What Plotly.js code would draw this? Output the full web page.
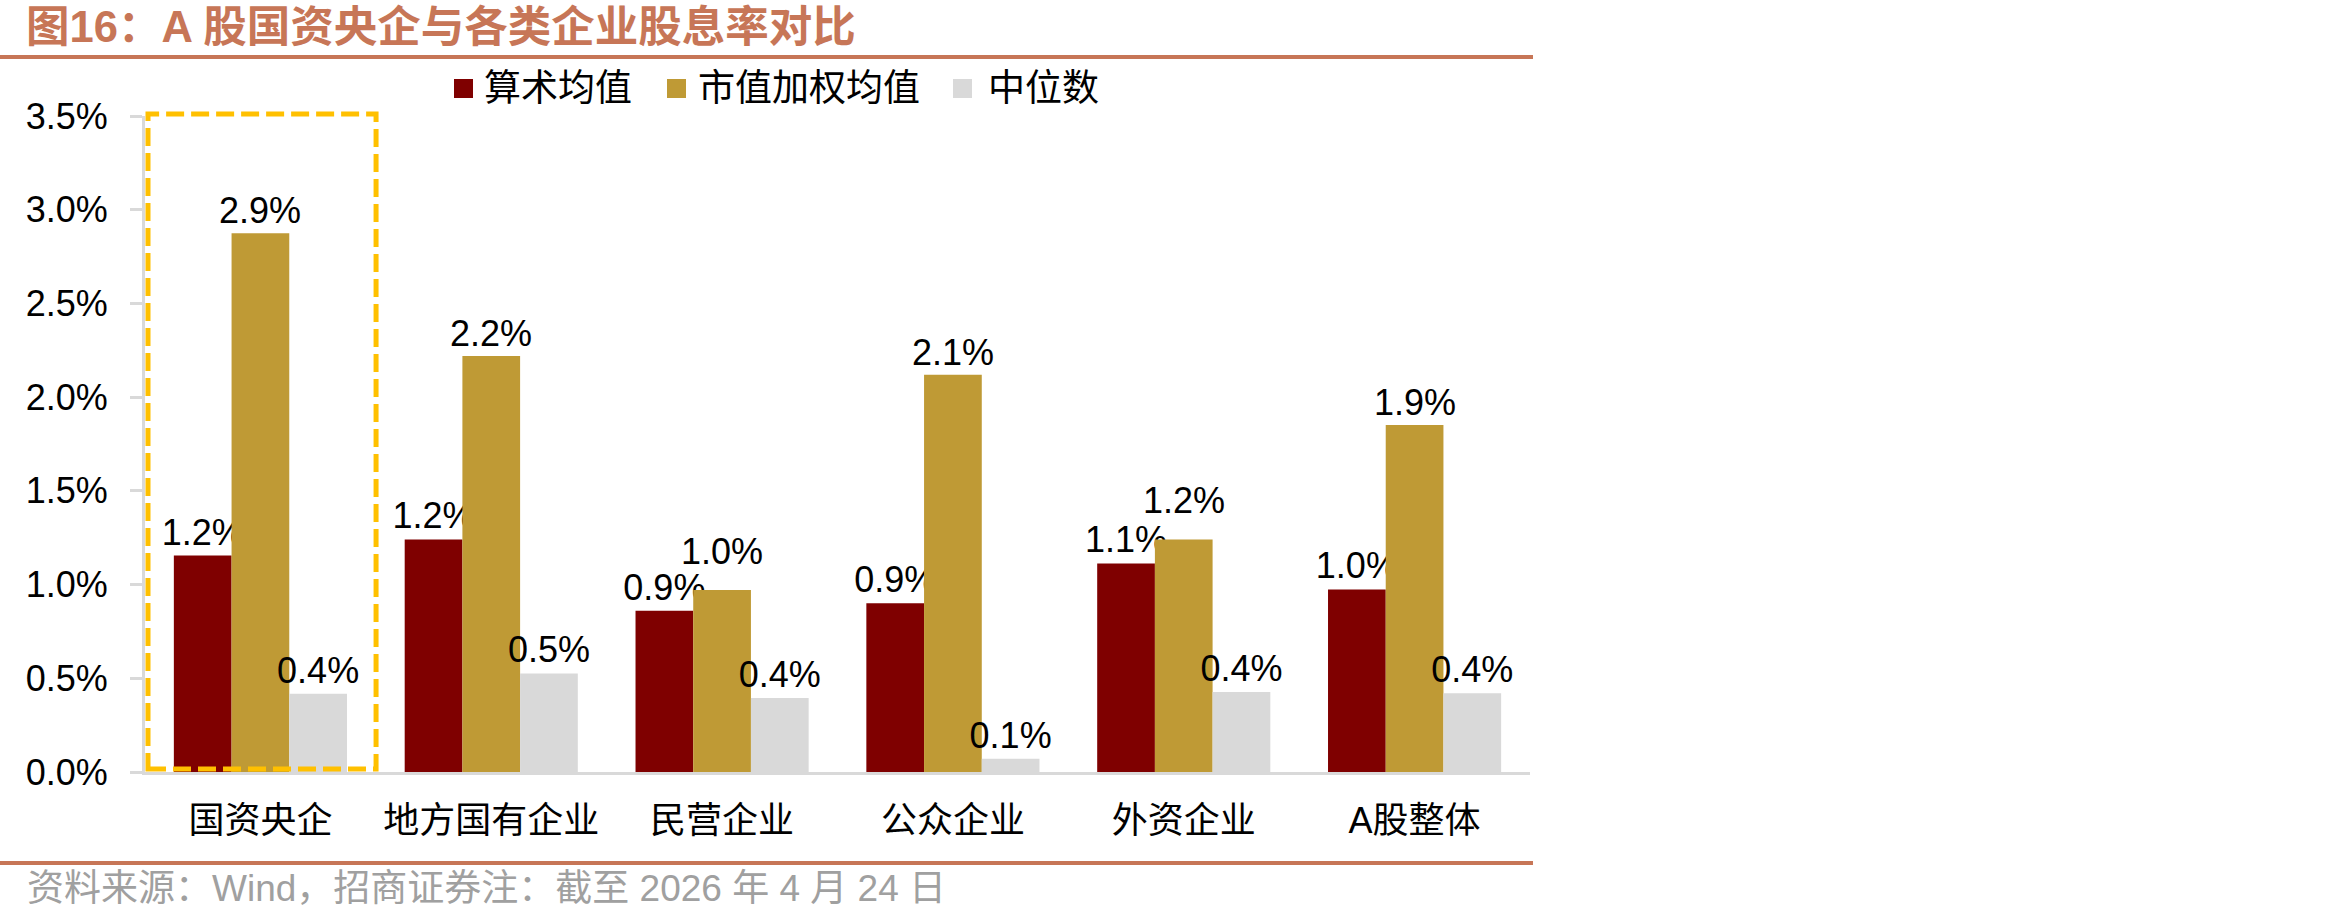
<!DOCTYPE html>
<html>
<head>
<meta charset="utf-8">
<script src="https://cdn.plot.ly/plotly-3.0.1.min.js"></script>
<style>
  html, body { margin: 0; padding: 0; background: #ffffff; }
  #chart { width: 2350px; height: 922px; }
</style>
</head>
<body>
<div id="chart"></div>
<script>
// ---- Data (dividend yield, %) ----
const categories = ['国资央企', '地方国有企业', '民营企业', '公众企业', '外资企业', 'A股整体'];
const seriesNames = ['算术均值', '市值加权均值', '中位数'];
const arithmeticMean = [1.155, 1.241, 0.860, 0.900, 1.113, 0.974];
const capWeightedMean = [2.874, 2.219, 0.971, 2.119, 1.241, 1.852];
const medianValues = [0.417, 0.526, 0.395, 0.071, 0.427, 0.420];
const yTickValues = [0, 0.5, 1.0, 1.5, 2.0, 2.5, 3.0, 3.5];
const yTickText = yTickValues.map(v => v.toFixed(1) + '%');

const titleText = '图16：A 股国资央企与各类企业股息率对比';
const sourceText = '资料来源：Wind，招商证券注：截至 2026 年 4 月 24 日';

// ---- Styles ----
const colors = ['#7F0000', '#BF9A35', '#D9D9D9'];
const fontFamily = 'Liberation Sans, Arial, Noto Sans CJK SC, sans-serif';
const accent = '#C77657';
// extra lift (px) of the middle-series labels so they clear neighbouring labels
const goldLabelLift = [0, 0, 16, 0, 16, 0];

const W = 2350, H = 922;
const plotL = 145, plotR = 1530, plotT = 116, plotB = 772;
const pw = plotR - plotL, ph = plotB - plotT;
const px = (x) => (x - plotL) / pw;       // page x -> paper x
const py = (y) => (plotB - y) / ph;       // page y -> paper y

const seriesValues = [arithmeticMean, capWeightedMean, medianValues];

const traces = seriesValues.map((vals, i) => ({
  type: 'bar',
  name: seriesNames[i],
  x: categories,
  y: vals,
  marker: { color: colors[i], line: { width: 0 } },
  texttemplate: i === 1 ? '' : '%{y:.1f}%',
  textposition: i === 1 ? 'none' : 'outside',
  constraintext: 'none',
  cliponaxis: false,
  textfont: { family: fontFamily, size: 36, color: '#000000' },
  showlegend: false,
  hoverinfo: 'skip'
}));

// labels of the middle series (centred on each category)
const goldLabels = categories.map((c, i) => ({
  xref: 'x', yref: 'y',
  x: c, y: capWeightedMean[i],
  xanchor: 'center', yanchor: 'bottom',
  yshift: 1 + goldLabelLift[i],
  text: capWeightedMean[i].toFixed(1) + '%',
  showarrow: false,
  borderpad: 0,
  font: { family: fontFamily, size: 36, color: '#000000' }
}));

// manual legend (large square swatches)
const legendSquareX = [454, 667, 953];
const legendTextX = [483, 697, 987];
const legendShapes = seriesNames.map((n, i) => ({
  type: 'rect', xref: 'paper', yref: 'paper',
  x0: px(legendSquareX[i]), x1: px(legendSquareX[i] + 19),
  y0: py(98), y1: py(79),
  line: { width: 0 }, fillcolor: colors[i]
}));
const legendTexts = seriesNames.map((n, i) => ({
  xref: 'paper', yref: 'paper',
  x: px(legendTextX[i]), xanchor: 'left',
  y: py(89), yanchor: 'middle',
  text: n, showarrow: false, borderpad: 0,
  font: { family: fontFamily, size: 37, color: '#000000' }
}));

const layout = {
  width: W,
  height: H,
  paper_bgcolor: '#ffffff',
  plot_bgcolor: '#ffffff',
  margin: { l: plotL, r: W - plotR, t: plotT, b: H - plotB, pad: 0 },
  barmode: 'group',
  bargap: 0.25,
  bargroupgap: 0,
  showlegend: false,
  title: {
    text: titleText,
    xref: 'container', yref: 'container',
    x: 26 / W, xanchor: 'left',
    y: 1 - 27 / H, yanchor: 'middle',
    font: { family: fontFamily, size: 43.5, weight: 'bold', color: accent }
  },
  xaxis: {
    type: 'category',
    showgrid: false,
    zeroline: false,
    showline: true,
    linecolor: '#D9D9D9',
    linewidth: 3,
    ticks: '',
    ticklabelstandoff: 15,
    tickfont: { family: fontFamily, size: 36, color: '#000000' }
  },
  yaxis: {
    range: [0, 3.5],
    tickmode: 'array',
    tickvals: yTickValues,
    ticktext: yTickText,
    showgrid: false,
    zeroline: false,
    showline: true,
    linecolor: '#D9D9D9',
    linewidth: 3,
    ticks: 'outside',
    ticklen: 12,
    tickwidth: 3,
    tickcolor: '#D9D9D9',
    ticklabelstandoff: 15,
    tickfont: { family: fontFamily, size: 36, color: '#000000' }
  },
  shapes: [
    // highlight box around 国资央企
    {
      type: 'rect', xref: 'x', yref: 'paper',
      x0: -0.487, x1: 0.501, y0: py(769), y1: py(114),
      line: { color: '#FFC000', width: 5, dash: '18px,7px' },
      fillcolor: 'rgba(0,0,0,0)', layer: 'above'
    },
    // top rule under title
    {
      type: 'line', xref: 'paper', yref: 'paper',
      x0: px(0), x1: px(1533), y0: py(57), y1: py(57),
      line: { color: accent, width: 4 }
    },
    // bottom rule above source
    {
      type: 'line', xref: 'paper', yref: 'paper',
      x0: px(0), x1: px(1533), y0: py(863), y1: py(863),
      line: { color: accent, width: 4 }
    }
  ].concat(legendShapes),
  annotations: [
    {
      text: sourceText,
      xref: 'paper', yref: 'paper',
      x: px(25), xanchor: 'left',
      y: py(889), yanchor: 'middle',
      showarrow: false,
      font: { family: fontFamily, size: 37, color: '#A0A0A0' }
    }
  ].concat(goldLabels, legendTexts)
};

Plotly.newPlot('chart', traces, layout, { displayModeBar: false, staticPlot: true });
</script>
</body>
</html>
